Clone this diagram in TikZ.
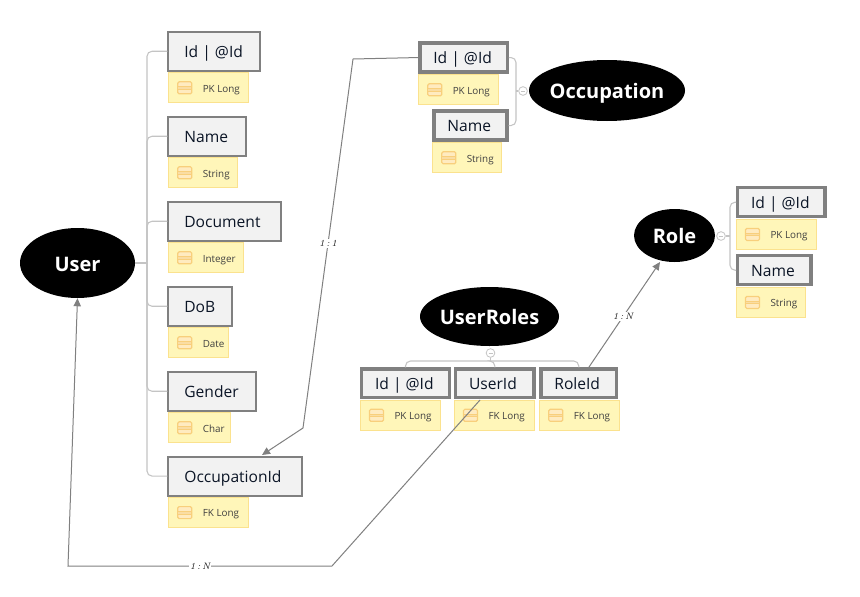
\documentclass[tikz,border=0pt]{standalone}
\usepackage{fontspec}
\setsansfont{Open Sans}
\usetikzlibrary{shapes.geometric,arrows.meta,calc}
\definecolor{boxgray}{HTML}{808080}
\definecolor{boxfill}{HTML}{F2F2F2}
\definecolor{notefill}{HTML}{FFF6B9}
\definecolor{noteline}{HTML}{FBE28E}
\definecolor{iconline}{HTML}{F8CF7C}
\definecolor{iconfill}{HTML}{FFEBC0}
\definecolor{treeline}{HTML}{C4C4C4}
\definecolor{inktext}{HTML}{0B1526}
\def\fieldpad{12pt}
\def\notedx{1}
\tikzset{
  x=0.75pt,y=-0.75pt,
  entity/.style={ellipse,fill=black,text=white,inner sep=0pt,text height=12pt,text depth=0pt,font=\sffamily\bfseries\fontsize{15}{18}\selectfont},
  fieldbox/.style={rectangle,draw=boxgray,fill=boxfill,anchor=north west,inner sep=0pt,
    text=inktext,font=\sffamily\fontsize{11.7}{14}\selectfont,text height=11.5pt,text depth=2.5pt},
  thin box/.style={line width=1.6pt,/utils/exec={\def\fieldpad{12pt}\gdef\notedx{1}}},
  heavy box/.style={line width=2.6pt,/utils/exec={\def\fieldpad{10pt}\gdef\notedx{0}}},
  notebox/.style={rectangle,draw=noteline,fill=notefill,line width=0.75pt,anchor=north west,inner sep=0pt,
    minimum height=22.5pt,text=black!75,font=\sffamily\fontsize{7.4}{9}\selectfont,text height=8pt,text depth=1.5pt},
  iconbox/.style={draw=iconline,fill=iconfill,line width=0.9pt,rounded corners=1pt},
  tree/.style={draw=treeline,line width=0.8pt,rounded corners=3.75pt},
  link/.style={draw=boxgray,line width=0.75pt},
  arrowlink/.style={link,-{Triangle[length=6pt,width=5.5pt,fill=boxgray]}},
  linklabel/.style={fill=white,inner sep=1pt,text=black!90,font=\itshape\fontsize{7}{8}\selectfont},
  minusmark/.style={circle,draw=treeline,fill=white,line width=0.6pt,minimum size=6.5pt,inner sep=0pt},
}
% name, x, y, width, height, border style, label, note width, note text
\newcommand{\fieldentry}[9]{%
  \pgfmathsetlengthmacro{\fieldw}{#4*0.75pt}%
  \pgfmathsetlengthmacro{\notew}{#8*0.75pt}%
  \node[fieldbox,#6,minimum height=#5*0.75pt] (#1) at (#2,#3) {\makebox[\fieldw][l]{\hspace*{\fieldpad}#7}};
  \node[notebox] (#1-note) at ($(#1.south west)+(\notedx,0.5)$) {\makebox[\notew][l]{\hspace*{25.5pt}#9}};
  \draw[iconbox] ($(#1-note.west)+(9.5,-6)$) rectangle ($(#1-note.west)+(23.5,6)$);
  \draw[draw=iconline,fill=iconline!70,line width=0.5pt] ($(#1-note.west)+(9.5,-1.2)$) rectangle ($(#1-note.west)+(23.5,1.2)$);
}
\begin{document}
\begin{tikzpicture}
\path[use as bounding box,fill=white] (0,0) rectangle (860,596);

% entities
\node[entity,minimum width=86.25pt,minimum height=52.5pt] (user) at (77.5,263) {\makebox[0pt]{User}};
\node[entity,minimum width=117pt,minimum height=45.75pt] (occ) at (607,90.5) {\makebox[0pt]{Occupation}};
\node[entity,minimum width=104.25pt,minimum height=44.25pt] (ur) at (489.5,316.5) {\makebox[0pt]{UserRoles}};
\node[entity,minimum width=60.75pt,minimum height=39.75pt] (role) at (674.5,235.5) {\makebox[0pt]{Role}};

% User fields
\fieldentry{uid}{167.3}{30.7}{91.3}{39}{thin box}{Id | @Id}{80}{PK Long}
\fieldentry{uname}{167.3}{115.7}{77.3}{39}{thin box}{Name}{69}{String}
\fieldentry{udoc}{167.3}{200.7}{112.3}{39}{thin box}{Document}{75}{Integer}
\fieldentry{udob}{167.3}{285.7}{63.6}{39}{thin box}{DoB}{60}{Date}
\fieldentry{ugen}{167.3}{370.7}{88}{39}{thin box}{Gender}{62}{Char}
\fieldentry{uocc}{167.3}{455.5}{133.3}{39}{thin box}{OccupationId}{80}{FK Long}

% Occupation fields
\fieldentry{oid}{418.3}{41.3}{87.2}{29}{heavy box}{Id | @Id}{80}{PK Long}
\fieldentry{oname}{432.3}{109.3}{72.9}{29}{heavy box}{Name}{69}{String}

% UserRoles fields
\fieldentry{rid}{360}{367.3}{87.5}{28.5}{heavy box}{Id | @Id}{80}{PK Long}
\fieldentry{ruser}{454}{367.3}{78.2}{28.5}{heavy box}{UserId}{80}{FK Long}
\fieldentry{rrole}{539.3}{367.3}{75.5}{28.5}{heavy box}{RoleId}{80}{FK Long}

% Role fields
\fieldentry{lid}{736}{186}{87.2}{29}{heavy box}{Id | @Id}{80}{PK Long}
\fieldentry{lname}{736}{254}{73.2}{29}{heavy box}{Name}{69}{String}

% tree connectors
\coordinate (utrunk) at (147,263);
\draw[tree] (uid.west) -| (utrunk) |- (uocc.west);
\draw[tree] (uname.west) -| (utrunk);
\draw[tree] (udoc.west) -| (utrunk);
\draw[tree] (udob.west) -| (utrunk);
\draw[tree] (ugen.west) -| (utrunk);
\draw[tree] (user.east) -- (utrunk);

\coordinate (otrunk) at (516,91);
\node[minusmark] (ominus) at (523,91) {};
\draw[tree] (oid.east) -| (otrunk) |- (oname.east);
\draw[tree] (otrunk) -- (ominus);
\draw[draw=treeline,line width=0.5pt] ($(ominus)+(-2,0)$) -- ($(ominus)+(2,0)$);

\coordinate (rbus) at (490.5,361);
\node[minusmark] (rminus) at (490.5,353) {};
\draw[tree] (rid.north) |- (rbus) -| (rrole.north);
\draw[tree] (ruser.north) |- (rbus);
\draw[tree] (rminus) -- (rbus);
\draw[draw=treeline,line width=0.5pt] ($(rminus)+(-2,0)$) -- ($(rminus)+(2,0)$);

\coordinate (ltrunk) at (730,236);
\node[minusmark] (lminus) at (721,236) {};
\draw[tree] (lid.west) -| (ltrunk) |- (lname.west);
\draw[tree] (lminus) -- (ltrunk);
\draw[draw=treeline,line width=0.5pt] ($(lminus)+(-2,0)$) -- ($(lminus)+(2,0)$);

% relationship connectors
\coordinate (bendA) at (353,59);
\coordinate (bendB) at (303,428);
\coordinate (occend) at (262,455);
\draw[arrowlink] (oid.west) -- (bendA) -- node[linklabel,pos=0.5]{1\,:\,1} (bendB) -- (occend);

\coordinate (ustart) at (480,400);
\coordinate (bendC) at (332,566);
\coordinate (bendD) at (68,566);
\draw[arrowlink] (ustart) -- (bendC) -- node[linklabel,pos=0.5]{1\,:\,N} (bendD) -- (user.south);

\coordinate (rstart) at (589,367);
\coordinate (rend) at (660,262);
\draw[arrowlink] (rstart) -- node[linklabel,pos=0.48]{1\,:\,N} (rend);
\end{tikzpicture}
\end{document}
